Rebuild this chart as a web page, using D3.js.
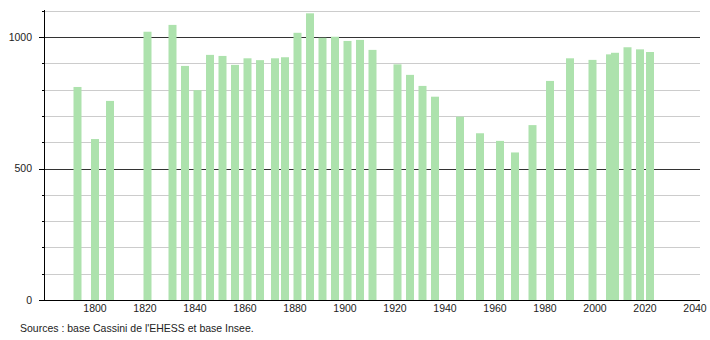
<!DOCTYPE html>
<html>
<head>
<meta charset="utf-8">
<script src="https://cdn.jsdelivr.net/npm/d3@7"></script>
<style>
  body { margin: 0; background: #fff; }
  svg { display: block; font-family: "Liberation Sans", Arial, sans-serif; }
</style>
</head>
<body>
<div id="chart-container"></div>
<script>
// census years and population
const years = [1793, 1800, 1806, 1821, 1831, 1836, 1841, 1846, 1851, 1856,
  1861, 1866, 1872, 1876, 1881, 1886, 1891, 1896, 1901, 1906,
  1911, 1921, 1926, 1931, 1936, 1946, 1954, 1962, 1968, 1975,
  1982, 1990, 1999, 2006, 2008, 2013, 2018, 2022];
const population = [810, 612, 757, 1020, 1046, 890, 798, 932, 928, 894,
  919, 912, 919, 923, 1016, 1090, 997, 1001, 985, 989,
  951, 896, 856, 814, 773, 697, 634, 605, 561, 665,
  833, 919, 913, 934, 940, 961, 953, 943];
const xTicks = [1800, 1820, 1840, 1860, 1880, 1900, 1920, 1940, 1960, 1980, 2000, 2020, 2040];
const yTicks = [0, 500, 1000];
const yMinor = [100, 200, 300, 400, 600, 700, 800, 900, 1100];
const source = "Sources : base Cassini de l'EHESS et base Insee.";

const data = years.map((y, i) => ({ year: y, value: population[i] }));

const width = 710, height = 340;
const x = d3.scaleLinear().domain([1780, 2042]).range([45, 700]);
const y = d3.scaleLinear().domain([0, 1100]).range([300, 10.7]);
const axisX = 44.5;

const svg = d3.select("#chart-container").append("svg")
  .attr("width", width)
  .attr("height", height);

// minor grid lines
svg.append("g")
  .selectAll("line")
  .data(yMinor)
  .join("line")
  .attr("x1", axisX).attr("x2", 700)
  .attr("y1", d => Math.round(y(d)) + 0.5)
  .attr("y2", d => Math.round(y(d)) + 0.5)
  .attr("stroke", "#cccccc");

// major grid lines
svg.append("g")
  .selectAll("line")
  .data(yTicks.filter(d => d > 0))
  .join("line")
  .attr("x1", axisX).attr("x2", 700)
  .attr("y1", d => Math.round(y(d)) + 0.5)
  .attr("y2", d => Math.round(y(d)) + 0.5)
  .attr("stroke", "#333333");

// bars
svg.append("g")
  .selectAll("rect")
  .data(data)
  .join("rect")
  .attr("x", d => x(d.year) - 4)
  .attr("width", 8)
  .attr("y", d => y(d.value))
  .attr("height", d => y(0) - y(d.value))
  .attr("fill", "#ade2ad");

// y axis line and ticks
svg.append("line")
  .attr("x1", axisX).attr("x2", axisX)
  .attr("y1", 10).attr("y2", 300)
  .attr("stroke", "#000");

svg.append("g")
  .selectAll("line")
  .data(yMinor)
  .join("line")
  .attr("x1", 42).attr("x2", axisX)
  .attr("y1", d => Math.round(y(d)) + 0.5)
  .attr("y2", d => Math.round(y(d)) + 0.5)
  .attr("stroke", "#000");

svg.append("g")
  .selectAll("line")
  .data(yTicks)
  .join("line")
  .attr("x1", 39).attr("x2", axisX)
  .attr("y1", d => Math.round(y(d)) + 0.5)
  .attr("y2", d => Math.round(y(d)) + 0.5)
  .attr("stroke", "#000");

// x axis line
svg.append("line")
  .attr("x1", 39).attr("x2", 700)
  .attr("y1", Math.round(y(0)) + 0.5).attr("y2", Math.round(y(0)) + 0.5)
  .attr("stroke", "#000");

// y labels
svg.append("g")
  .selectAll("text")
  .data(yTicks)
  .join("text")
  .attr("x", 32)
  .attr("y", d => y(d))
  .attr("dy", "0.35em")
  .attr("text-anchor", "end")
  .attr("font-size", 10.5)
  .attr("fill", "#222")
  .text(d => d);

// x labels
svg.append("g")
  .selectAll("text")
  .data(xTicks)
  .join("text")
  .attr("x", d => x(d))
  .attr("y", 312)
  .attr("text-anchor", "middle")
  .attr("font-size", 10.5)
  .attr("fill", "#222")
  .text(d => d);

svg.append("text")
  .attr("x", 20)
  .attr("y", 332)
  .attr("font-size", 10.5)
  .attr("fill", "#222")
  .text(source);
</script>
</body>
</html>
